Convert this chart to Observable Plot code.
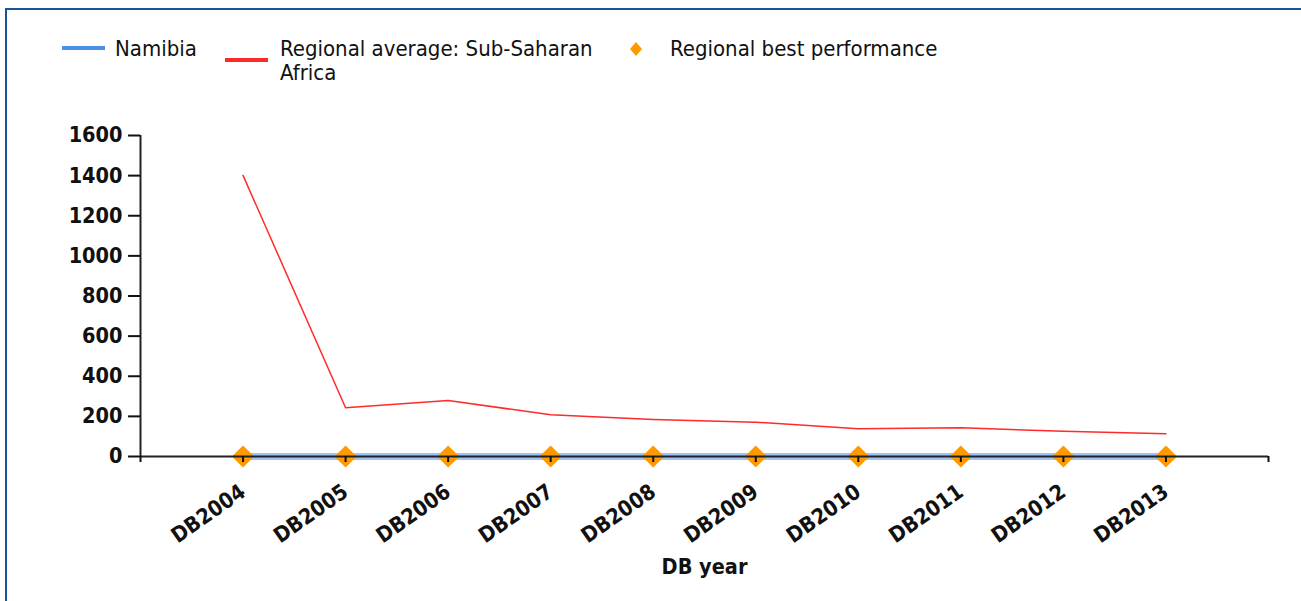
<!DOCTYPE html>
<html><head><meta charset="utf-8">
<script src="https://cdn.jsdelivr.net/npm/d3@7"></script>
<script src="https://cdn.jsdelivr.net/npm/@observablehq/plot@0.6"></script>
<style>
html,body{margin:0;padding:0;background:#fff;overflow:hidden;width:1301px;height:601px;}
#wrap{position:relative;width:1301px;height:601px;overflow:hidden;}
#chart{position:absolute;left:0;top:0;}
#border{position:absolute;left:5px;top:8px;width:1400px;height:700px;border-left:2px solid #1a5593;border-top:2px solid #1a5593;pointer-events:none;}
.leg{position:absolute;font-family:"DejaVu Sans Condensed","DejaVu Sans",sans-serif;font-size:22px;line-height:24px;color:#111;}
.sw{position:absolute;height:4px;width:43px;}
</style></head><body>
<div id="wrap"><div id="chart"></div><div id="legend"></div><div id="border"></div></div>
<script>
const years = ["DB2004","DB2005","DB2006","DB2007","DB2008","DB2009","DB2010","DB2011","DB2012","DB2013"];
const namibia = [0,0,0,0,0,0,0,0,0,0];
const regionalAverage = [1401,243,279,208,184,171,138,143,126,113];
const regionalBest = [0,0,0,0,0,0,0,0,0,0];
const seriesNames = ["Namibia","Regional average: Sub-Saharan Africa","Regional best performance"];
const seriesColors = ["#4a90e8","#ff2a2a","#ff9900"];
const yTicks = [0,200,400,600,800,1000,1200,1400,1600];
const xLabel = "DB year";

const idx = years.map((d,i)=>i);

const plot = Plot.plot({
  width: 1301,
  height: 601,
  marginLeft: 140,
  marginRight: 33,
  marginTop: 135,
  marginBottom: 145,
  style: {fontFamily: '"DejaVu Sans Condensed","DejaVu Sans",sans-serif', fontSize: "21.5px", fontWeight: "bold", color: "#111", background: "transparent", overflow: "visible"},
  x: {type: "linear", domain: [-1, years.length]},
  y: {domain: [0, 1600]},
  marks: [
    Plot.line(idx, {x: i=>i, y: i=>namibia[i], stroke: "#9cc3f3", strokeWidth: 7}),
    Plot.line(idx, {x: i=>i, y: i=>regionalAverage[i], stroke: seriesColors[1], strokeWidth: 1.5}),
    Plot.dot(idx, {x: i=>i, y: i=>regionalBest[i], symbol: "diamond2", r: 10, fill: seriesColors[2], stroke: "none"}),
    Plot.ruleX([-1], {y1: 0, y2: 1600, stroke: "#222", strokeWidth: 2}),
    Plot.ruleY([0], {stroke: "#222", strokeWidth: 2}),
    Plot.axisY({ticks: yTicks, tickFormat: d => String(d), tickSize: 12, tickPadding: 6, label: null, strokeWidth: 2}),
    Plot.axisX({ticks: d3.range(-1, years.length + 1), tickFormat: i => (years[i] ?? ""), tickSize: 6, tickPadding: 27, tickRotate: -35, label: null, strokeWidth: 2}),
    Plot.text([xLabel], {frameAnchor: "bottom", lineAnchor: "middle", dy: 111, fontWeight: "bold"})
  ]
});
document.getElementById("chart").appendChild(plot);

const legend = document.getElementById("legend");
const items = [
  {sw: "line", swLeft: 62, swTop: 46, textLeft: 115, width: 120},
  {sw: "line", swLeft: 225, swTop: 58, textLeft: 280, width: 330},
  {sw: "diamond", swLeft: 630, swTop: 42, textLeft: 670, width: 400}
];
items.forEach((it, k) => {
  if (it.sw === "line") {
    const s = document.createElement("div");
    s.className = "sw";
    s.style.left = it.swLeft + "px";
    s.style.top = it.swTop + "px";
    s.style.background = seriesColors[k];
    legend.appendChild(s);
  } else {
    const s = document.createElementNS("http://www.w3.org/2000/svg", "svg");
    s.setAttribute("width", 12); s.setAttribute("height", 14);
    s.style.position = "absolute"; s.style.left = it.swLeft + "px"; s.style.top = it.swTop + "px";
    const p = document.createElementNS("http://www.w3.org/2000/svg", "path");
    p.setAttribute("d", "M6,0L12,7L6,14L0,7Z");
    p.setAttribute("fill", seriesColors[k]);
    s.appendChild(p);
    legend.appendChild(s);
  }
  const t = document.createElement("div");
  t.className = "leg";
  t.style.left = it.textLeft + "px";
  t.style.top = "37px";
  t.style.width = it.width + "px";
  t.textContent = seriesNames[k];
  legend.appendChild(t);
});
</script>
</body></html>
